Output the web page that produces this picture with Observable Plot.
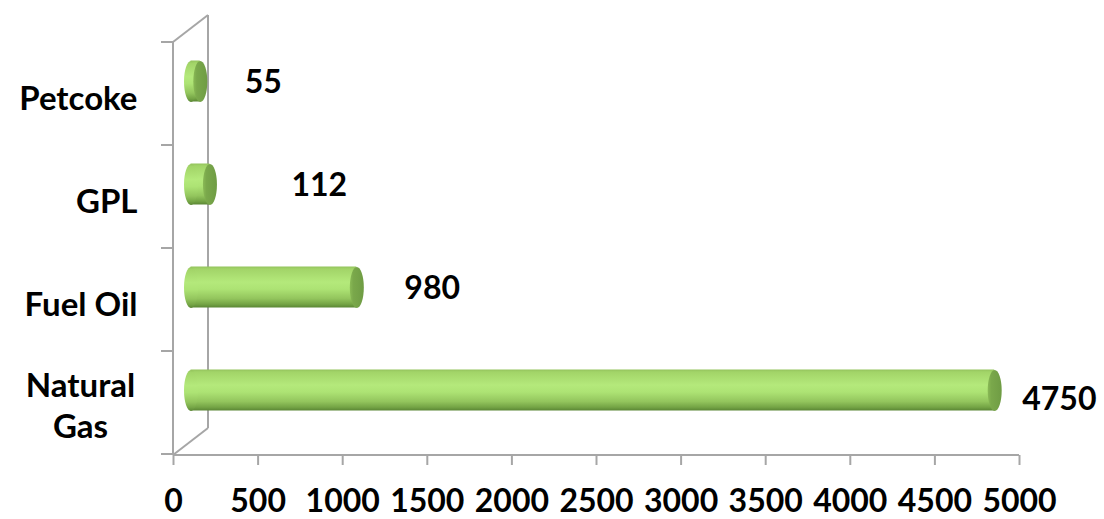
<!DOCTYPE html>
<html>
<head>
<meta charset="utf-8">
<script src="https://cdn.jsdelivr.net/npm/d3@7"></script>
<script src="https://cdn.jsdelivr.net/npm/@observablehq/plot@0.6"></script>
<style>
  html, body { margin: 0; padding: 0; background: #fff; }
  g[aria-label="x-axis tick"] { stroke: #a6a6a6; stroke-width: 2px; }
</style>
</head>
<body>
<div id="chart"></div>
<script>
// ---- data ----
const categories = ["Natural Gas", "Fuel Oil", "GPL", "Petcoke"];
const values = [4750, 980, 112, 55];
const xTicks = [0, 500, 1000, 1500, 2000, 2500, 3000, 3500, 4000, 4500, 5000];

const data = categories.map((c, i) => ({cat: c, value: values[i]}));
const yOrder = categories.slice().reverse();

// ---- style / 3D depth ----
const depthX = 35, depthY = -27;          // back wall offset
const midX = depthX / 2, midY = depthY / 2; // bars sit mid-depth
const gray = "#a6a6a6";
const font = "Lato, 'Open Sans', sans-serif";
// label nudges (style) keyed by category
const labelNudge = {
  "Petcoke": [62, -12],
  "GPL": [99, -12],
  "Fuel Oil": [65, -12],
  "Natural Gas": [45, -4]
};

// ellipse symbol (cylinder caps)
const ellipse = {
  draw(ctx) {
    const rx = 7, ry = 20.5, k = 0.5523;
    ctx.moveTo(rx, 0);
    ctx.bezierCurveTo(rx, ry * k, rx * k, ry, 0, ry);
    ctx.bezierCurveTo(-rx * k, ry, -rx, ry * k, -rx, 0);
    ctx.bezierCurveTo(-rx, -ry * k, -rx * k, -ry, 0, -ry);
    ctx.bezierCurveTo(rx * k, -ry, rx, -ry * k, rx, 0);
    ctx.closePath();
  }
};

const wrapped = c => c.length > 9;
const singleLine = categories.filter(c => !wrapped(c));
const multiLine = categories.filter(wrapped);

const labelMarks = data.map(d => Plot.text([d], {
  x: "value", y: "cat", text: r => String(r.value),
  textAnchor: "start", dx: labelNudge[d.cat][0], dy: labelNudge[d.cat][1],
  fontSize: 32, fontWeight: "bold", fill: "#000"
}));

const chart = Plot.plot({
  width: 1104,
  height: 519,
  marginLeft: 173,
  marginRight: 85,
  marginTop: 42,
  marginBottom: 64,
  style: {fontFamily: font, background: "#fff", color: "#000", overflow: "visible"},
  x: {domain: [0, 5000], label: null},
  y: {domain: yOrder, padding: 0, axis: null, label: null},
  marks: [
    Plot.axisX({ticks: xTicks, tickSize: 10, tickPadding: 24, fontSize: 32, fontWeight: "bold", label: null, tickFormat: d => String(d)}),
    Plot.barX(data, {x1: () => 0, x2: "value", y: "cat", fill: "url(#cylBody)", insetTop: 31, insetBottom: 31, dx: midX, dy: midY}),
    Plot.dot(data, {x: () => 0, y: "cat", symbol: ellipse, fill: "url(#cylBody)", stroke: "none", dx: midX, dy: midY}),
    Plot.dot(data, {x: "value", y: "cat", symbol: ellipse, fill: "url(#cylCap)", stroke: "none", dx: midX, dy: midY}),
    ...labelMarks,
    Plot.text(singleLine, {x: () => 0, y: d => d, text: d => d, textAnchor: "end", dx: -36, dy: 4, fontSize: 33, fontWeight: "bold", fill: "#000"}),
    Plot.text(multiLine, {x: () => 0, y: d => d, text: d => d.replace(" ", "\n"), textAnchor: "middle", dx: -93, dy: 0, lineHeight: 1.25, fontSize: 33, fontWeight: "bold", fill: "#000"})
  ]
});

document.getElementById("chart").appendChild(chart);

// ---- gradients + 3D frame lines drawn from the plot's scales ----
const svg = d3.select(chart);
const defs = svg.insert("defs", ":first-child");
const body = defs.append("linearGradient").attr("id", "cylBody")
  .attr("x1", 0).attr("y1", 0).attr("x2", 0).attr("y2", 1);
[[0, "#93c35c"], [0.06, "#a2d468"], [0.38, "#b4e97b"], [0.55, "#ade374"], [0.78, "#93c55d"], [0.92, "#74a445"], [1, "#5a8634"]]
  .forEach(([o, c]) => body.append("stop").attr("offset", o).attr("stop-color", c));
const cap = defs.append("linearGradient").attr("id", "cylCap")
  .attr("x1", 0).attr("y1", 0).attr("x2", 1).attr("y2", 0);
[[0, "#8aba56"], [0.25, "#7aa84b"], [1, "#6f9c44"]]
  .forEach(([o, c]) => cap.append("stop").attr("offset", o).attr("stop-color", c));

const xs = chart.scale("x"), ys = chart.scale("y");
const x0 = xs.apply(0), x1 = xs.apply(5000);
const [yT, yB] = ys.range;
const frame = svg.insert("g", "g[aria-label='bar']")
  .attr("stroke", gray).attr("stroke-width", 2).attr("fill", "none");
const seg = (a, b, c, d) => frame.append("line").attr("x1", a).attr("y1", b).attr("x2", c).attr("y2", d);
seg(x0, yB, x1, yB);                                   // floor front
seg(x0, yT, x0, yB);                                   // left front
seg(x0 + depthX, yT + depthY, x0 + depthX, yB + depthY); // back wall
seg(x0, yT, x0 + depthX, yT + depthY);                 // top diagonal
seg(x0, yB, x0 + depthX, yB + depthY);                 // bottom diagonal
const bw = ys.bandwidth;
for (let i = 0; i <= yOrder.length; i++) {
  const yy = yT + i * bw;
  seg(x0 - 12, yy, x0, yy);
}
</script>
</body>
</html>
